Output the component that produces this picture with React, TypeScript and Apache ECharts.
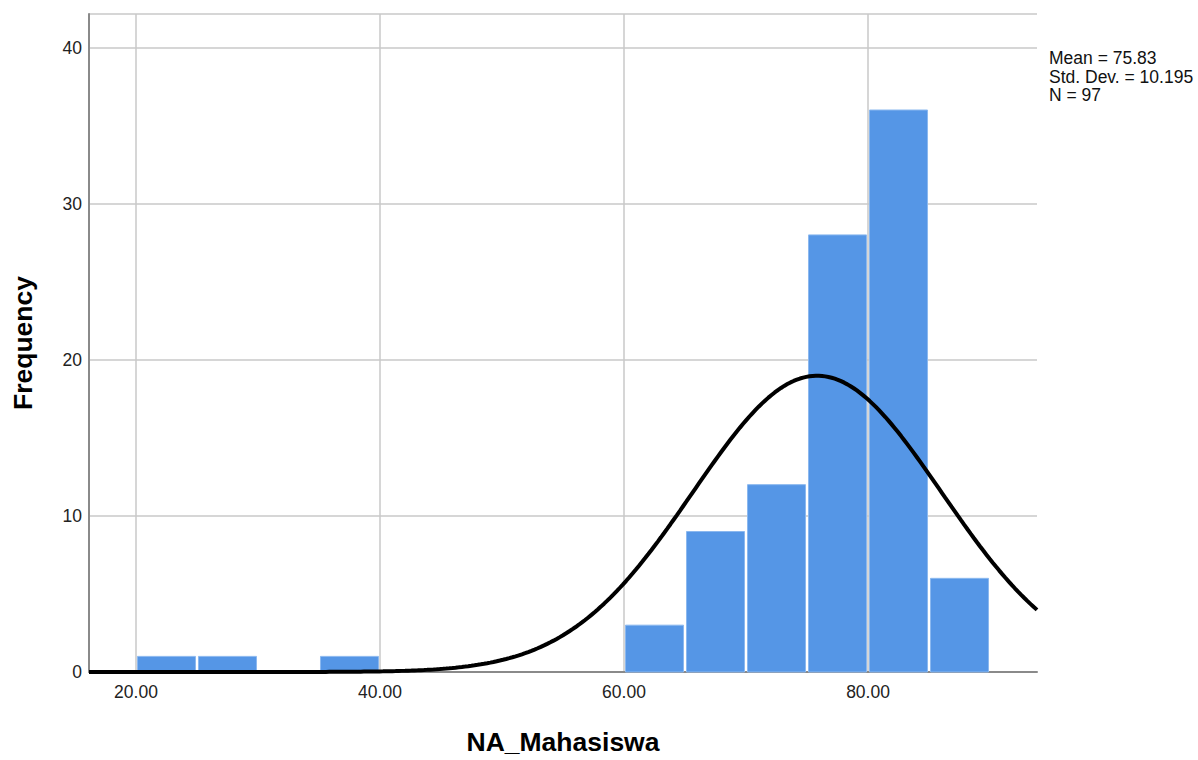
import React, { useEffect, useRef } from "react";
import * as echarts from "echarts";

const binStart = [20, 25, 30, 35, 40, 45, 50, 55, 60, 65, 70, 75, 80, 85];
const binEnd = [25, 30, 35, 40, 45, 50, 55, 60, 65, 70, 75, 80, 85, 90];
const frequency = [1, 1, 0, 1, 0, 0, 0, 0, 3, 9, 12, 28, 36, 6];
const xTickValues = [20, 40, 60, 80];
const statMean = 75.83;
const statSd = 10.195;
const statN = 97;
const statLines = ["Mean = 75.83", "Std. Dev. = 10.195", "N = 97"];

const X_MIN = 16.15;
const X_MAX = 93.85;
const BIN_WIDTH = 5;

function normalCurve(): number[][] {
  const pts: number[][] = [];
  const steps = 300;
  for (let i = 0; i <= steps; i++) {
    const x = X_MIN + ((X_MAX - X_MIN) * i) / steps;
    const z = (x - statMean) / statSd;
    const y = (statN * BIN_WIDTH) / (statSd * Math.sqrt(2 * Math.PI)) * Math.exp(-0.5 * z * z);
    pts.push([x, y]);
  }
  return pts;
}

const FONT = "Liberation Sans";

export default function App() {
  const ref = useRef<HTMLDivElement>(null);
  useEffect(() => {
    if (!ref.current) return;
    const chart = echarts.init(ref.current, undefined, { renderer: "svg" });
    const barData = binStart
      .map((s, i) => [s, binEnd[i], frequency[i]])
      .filter((d) => d[2] > 0);
    chart.setOption({
      animation: false,
      backgroundColor: "#ffffff",
      grid: { left: 89, right: 161, top: 14, bottom: 81, containLabel: false },
      xAxis: {
        type: "value",
        min: X_MIN,
        max: X_MAX,
        name: "NA_Mahasiswa",
        nameLocation: "middle",
        nameGap: 56,
        nameTextStyle: { fontFamily: FONT, fontSize: 26.5, fontWeight: "bold", color: "#000" },
        axisLine: { show: true, lineStyle: { color: "#8a8a8a", width: 2 } },
        axisTick: { show: false, customValues: xTickValues },
        axisLabel: {
          customValues: xTickValues,
          formatter: (v: number) => v.toFixed(2),
          fontFamily: FONT,
          fontSize: 17.5,
          color: "#222",
          margin: 11,
        },
        splitLine: { show: true, lineStyle: { color: "#c8c8c8", width: 1.5 } },
      },
      yAxis: {
        type: "value",
        min: 0,
        max: 42.15,
        interval: 10,
        name: "Frequency",
        nameLocation: "middle",
        nameGap: 52.5,
        nameTextStyle: { fontFamily: FONT, fontSize: 26.5, fontWeight: "bold", color: "#000" },
        axisLine: { show: true, lineStyle: { color: "#8a8a8a", width: 2 } },
        axisTick: { show: false },
        axisLabel: {
          fontFamily: FONT,
          fontSize: 17.5,
          color: "#222",
          margin: 7,
          padding: [7, 0, 0, 0],
          showMaxLabel: false,
        },
        splitLine: { show: true, lineStyle: { color: "#c8c8c8", width: 1.5 } },
      },
      series: [
        {
          type: "custom",
          data: barData,
          renderItem: (params: any, api: any) => {
            const p0 = api.coord([api.value(0), api.value(2)]);
            const p1 = api.coord([api.value(1), 0]);
            return {
              type: "rect",
              shape: { x: p0[0] + 1.5, y: p0[1], width: p1[0] - p0[0] - 3, height: p1[1] - p0[1] },
              style: { fill: "#5596e6", stroke: "#8bb8ef", lineWidth: 1 },
            };
          },
          z: 2,
        },
        {
          type: "line",
          data: normalCurve(),
          showSymbol: false,
          symbol: "none",
          smooth: false,
          lineStyle: { color: "#000", width: 4 },
          z: 3,
        },
      ],
      graphic: [
        {
          type: "text",
          left: 1049,
          top: 49,
          style: {
            text: statLines.join("\n"),
            fontFamily: FONT,
            fontSize: 17.5,
            lineHeight: 18.5,
            fill: "#111",
          },
        },
      ],
    });
    return () => chart.dispose();
  }, []);
  return (
    <div
      ref={ref}
      style={{ position: "absolute", left: 0, top: 0, width: 1198, height: 760 }}
    />
  );
}
